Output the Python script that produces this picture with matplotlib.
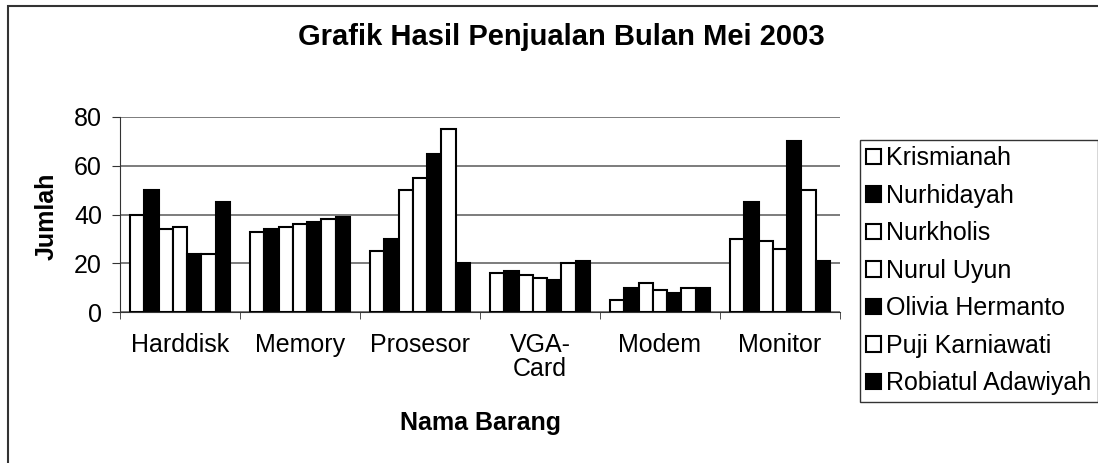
import matplotlib.pyplot as plt
import numpy as np
from matplotlib.patches import Rectangle

plt.rcParams['font.family'] = ['Liberation Sans', 'DejaVu Sans']

# Data penjualan
categories = ['Harddisk', 'Memory', 'Prosesor', 'VGA-\nCard', 'Modem', 'Monitor']
names = ['Krismianah', 'Nurhidayah', 'Nurkholis', 'Nurul Uyun',
         'Olivia Hermanto', 'Puji Karniawati', 'Robiatul Adawiyah']
krismianah = [40, 33, 25, 16, 5, 30]
nurhidayah = [50, 34, 30, 17, 10, 45]
nurkholis = [34, 35, 50, 15, 12, 29]
nurul_uyun = [35, 36, 55, 14, 9, 26]
olivia = [24, 37, 65, 13, 8, 70]
puji = [24, 38, 75, 20, 10, 50]
robiatul = [45, 39, 20, 21, 10, 21]
fills = ['white', 'black', 'white', 'white', 'black', 'white', 'black']

series = [krismianah, nurhidayah, nurkholis, nurul_uyun, olivia, puji, robiatul]

W, H = 1098, 463
fig = plt.figure(figsize=(W / 100, H / 100), dpi=100)
ax = fig.add_axes([120 / W, (H - 312) / H, 720 / W, 195 / H])

x = np.arange(len(categories))
n = len(series)
bw = (100 / 120) / n
handles = []
for i, (vals, fc) in enumerate(zip(series, fills)):
    b = ax.bar(x - 0.5 + 10 / 120 + bw * (i + 0.5), vals, bw, color=fc,
               edgecolor='black', linewidth=1.5, zorder=3, label=names[i])
    handles.append(b)

ax.set_xlim(-0.5, len(categories) - 0.5)
ax.set_ylim(0, 80)
ax.set_yticks([0, 20, 40, 60, 80])
ax.yaxis.grid(True, color='#666666', linewidth=1.2, zorder=0)
ax.set_xticks(x)
ax.set_xticklabels(categories, fontsize=18, linespacing=1.0)
ax.set_xticks(np.arange(len(categories) + 1) - 0.5, minor=True)
ax.tick_params(axis='x', which='major', length=0, pad=15)
ax.tick_params(axis='x', which='minor', length=5, color='#333333')
ax.tick_params(axis='y', labelsize=18, length=6, color='#333333', pad=7)
for s in ['top', 'right']:
    ax.spines[s].set_visible(False)
for s in ['left', 'bottom']:
    ax.spines[s].set_color('#333333')
ax.spines['bottom'].set_zorder(4)

# judul dan label sumbu
fig.text(480 / W, (H - 423) / H, 'Nama Barang', ha='center', va='center',
         fontsize=18, fontweight='bold')
fig.text(47 / W, (H - 216) / H, 'Jumlah', ha='center', va='center',
         rotation=90, fontsize=18, fontweight='bold')
fig.text(561 / W, (H - 37) / H, 'Grafik Hasil Penjualan Bulan Mei 2003',
         ha='center', va='center', fontsize=21, fontweight='bold')

leg = fig.legend(handles=handles, loc='upper left',
                 bbox_to_anchor=(860 / W, (H - 140) / H), fontsize=18,
                 frameon=True, fancybox=False, edgecolor='black',
                 handlelength=0.6, handleheight=0.6, handletextpad=0.2,
                 labelspacing=0.54, borderpad=0.25, borderaxespad=0)
leg.get_frame().set_linewidth(1.0)

# bingkai luar
fig.patches.append(Rectangle((8 / W, -0.5), 1.5, (H - 6) / H + 0.5,
                             transform=fig.transFigure, fill=False,
                             edgecolor='#333333', linewidth=1.5))

fig.savefig('out.png', dpi=100)
